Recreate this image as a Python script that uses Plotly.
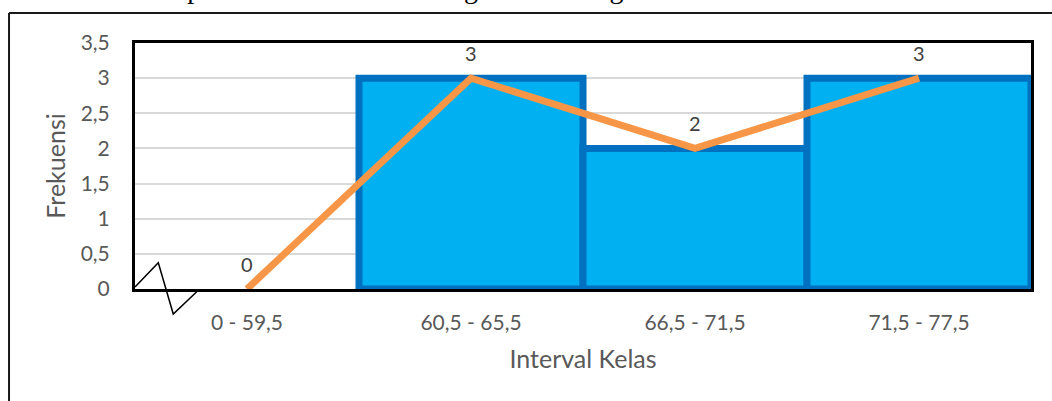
import plotly.graph_objects as go

# Frequency table
kelas = ["0 - 59,5", "60,5 - 65,5", "66,5 - 71,5", "71,5 - 77,5"]
frekuensi = [0, 3, 2, 3]
y_ticks = [0, 0.5, 1, 1.5, 2, 2.5, 3, 3.5]

FONT = "Lato"
TICK_GRAY = "#595959"
LABEL_GRAY = "#404040"

fig = go.Figure()

# Histogram bars (no gap between classes); empty classes get no outline
fig.add_trace(go.Bar(
    x=kelas, y=frekuensi, width=1,
    marker=dict(color="#00B0F0",
                line=dict(color="#0070C0",
                          width=[7 if f > 0 else 0 for f in frekuensi])),
    hoverinfo="skip", showlegend=False,
))

# Frequency polygon
fig.add_trace(go.Scatter(
    x=kelas, y=frekuensi, mode="lines",
    line=dict(color="#F79646", width=7),
    hoverinfo="skip", showlegend=False,
))

# Value labels above each point
for k, f in zip(kelas, frekuensi):
    fig.add_annotation(
        x=k, y=f, text=str(f), showarrow=False, yshift=25, yanchor="middle",
        font=dict(family=FONT, size=20, color=LABEL_GRAY),
    )

# Axis break mark near the origin
fig.add_shape(
    type="path", xref="paper", yref="paper",
    path="M 0,0.008 L 0.026,0.107 L 0.0427,-0.1016 L 0.0689,-0.011",
    line=dict(color="black", width=1.5),
)

# Chart frame (left and top edges)
fig.add_shape(type="line", xref="paper", yref="paper",
              x0=-0.1406, y0=1.122, x1=-0.1406, y1=-0.6,
              line=dict(color="#1a1a1a", width=2))
fig.add_shape(type="line", xref="paper", yref="paper",
              x0=-0.1406, y0=1.122, x1=1.1, y1=1.122,
              line=dict(color="#1a1a1a", width=2))

# Running text line above the chart
fig.add_annotation(
    xref="paper", yref="paper", x=-0.1306, y=1.152,
    xanchor="left", yanchor="bottom", showarrow=False,
    text="tabel di atas dapat dibuat dalam bentuk gambar histogram berikut.",
    font=dict(family="Liberation Serif", size=28, color="black"),
)

fig.update_layout(
    width=1052, height=401,
    margin=dict(l=135, r=21, t=43, b=112),
    paper_bgcolor="white", plot_bgcolor="white",
    separators=",.",
    font=dict(family=FONT, color=TICK_GRAY),
    xaxis=dict(
        type="category", range=[-0.5, 3.5],
        showline=True, linecolor="black", linewidth=3, mirror=True,
        showgrid=False, ticks="", ticklabelstandoff=13,
        tickfont=dict(family=FONT, size=21, color=TICK_GRAY),
        title=dict(text="Interval Kelas", standoff=18,
                   font=dict(family=FONT, size=25, color=TICK_GRAY)),
    ),
    yaxis=dict(
        range=[0, 3.5], tickvals=y_ticks,
        showline=True, linecolor="black", linewidth=3, mirror=True,
        showgrid=True, gridcolor="#d9d9d9", gridwidth=1.5,
        zeroline=False, ticks="", ticklabelstandoff=18,
        tickfont=dict(family=FONT, size=21, color=TICK_GRAY),
        title=dict(text="Frekuensi", standoff=8,
                   font=dict(family=FONT, size=25, color=TICK_GRAY)),
    ),
)

fig.write_html("out.html")
